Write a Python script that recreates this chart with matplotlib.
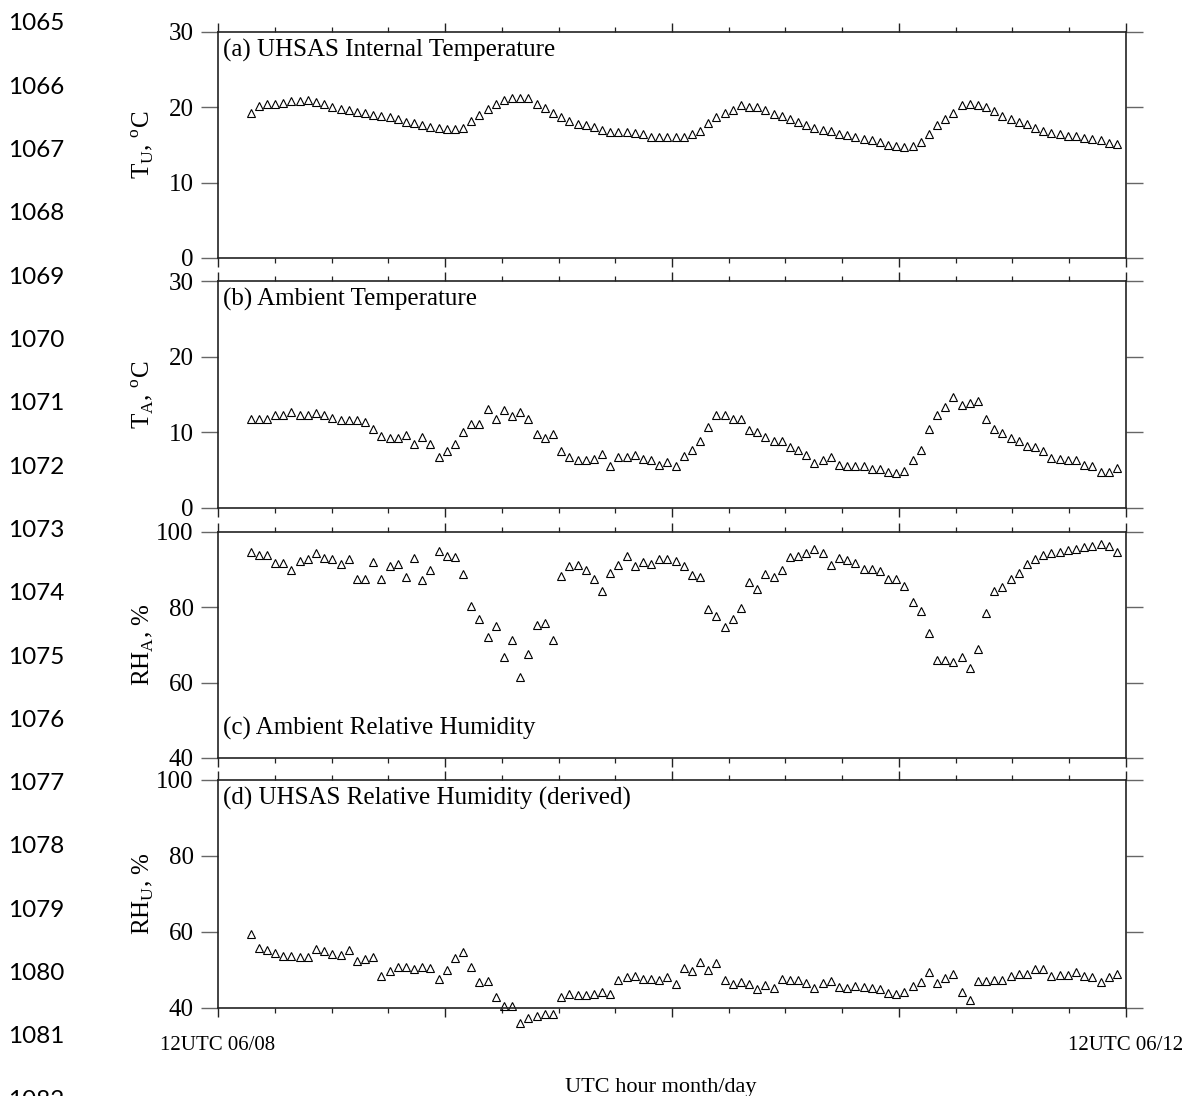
import numpy as np
import matplotlib
matplotlib.use('Agg')
import matplotlib.pyplot as plt
from matplotlib.ticker import FixedLocator, FixedFormatter, MultipleLocator

plt.rcParams['font.family'] = ['Liberation Serif', 'DejaVu Serif']
plt.rcParams['mathtext.fontset'] = 'custom'
plt.rcParams['mathtext.rm'] = 'Liberation Serif'

# sampling: first record 15:27 UTC 06/08, one record every ~52 min (hours since 12UTC 06/08)
t_start = 3.45
t_step = 0.864

# (a) UHSAS internal temperature, degC
temp_uhsas = [19.2, 20.2, 20.4, 20.5, 20.6, 20.8, 20.8, 21.0, 20.7, 20.4,
              20.1, 19.8, 19.6, 19.4, 19.2, 19.0, 18.9, 18.7, 18.4, 18.1,
              17.9, 17.6, 17.4, 17.3, 17.1, 17.1, 17.3, 18.2, 19.0, 19.8,
              20.5, 21.0, 21.2, 21.2, 21.2, 20.5, 19.9, 19.3, 18.7, 18.2,
              17.8, 17.6, 17.4, 17.0, 16.7, 16.7, 16.7, 16.6, 16.5, 16.1,
              16.1, 16.1, 16.1, 16.0, 16.4, 16.8, 17.9, 18.7, 19.3, 19.6,
              20.3, 20.1, 20.0, 19.6, 19.1, 18.8, 18.4, 18.1, 17.7, 17.3,
              17.0, 16.9, 16.5, 16.3, 16.0, 15.8, 15.6, 15.4, 15.0, 14.9,
              14.8, 14.9, 15.4, 16.5, 17.6, 18.4, 19.2, 20.3, 20.5, 20.3,
              20.0, 19.5, 18.9, 18.4, 18.1, 17.8, 17.3, 16.9, 16.6, 16.5,
              16.2, 16.2, 15.9, 15.8, 15.6, 15.2, 15.1]

# (b) ambient temperature, degC
temp_amb = [11.8, 11.8, 11.8, 12.3, 12.3, 12.7, 12.3, 12.3, 12.5, 12.3,
            11.9, 11.6, 11.6, 11.6, 11.3, 10.4, 9.5, 9.2, 9.2, 9.7,
            8.4, 9.4, 8.5, 6.7, 7.5, 8.5, 10.0, 11.1, 11.1, 13.1,
            11.7, 12.9, 12.2, 12.7, 11.7, 9.8, 9.2, 9.8, 7.5, 6.8,
            6.3, 6.3, 6.5, 7.2, 5.6, 6.7, 6.7, 7.0, 6.5, 6.4,
            5.7, 6.1, 5.5, 6.9, 7.6, 8.9, 10.7, 12.3, 12.3, 11.7,
            11.7, 10.3, 10.1, 9.4, 8.9, 8.9, 8.0, 7.6, 7.0, 6.0,
            6.3, 6.8, 5.7, 5.5, 5.5, 5.5, 5.1, 5.1, 4.8, 4.6,
            4.9, 6.3, 7.6, 10.4, 12.3, 13.4, 14.7, 13.6, 13.9, 14.2,
            11.8, 10.5, 9.9, 9.3, 8.9, 8.2, 8.0, 7.5, 6.6, 6.5,
            6.3, 6.3, 5.7, 5.6, 4.8, 4.8, 5.3]

# (c) ambient relative humidity, %
rh_amb = [94.8, 93.9, 93.9, 91.8, 91.8, 90.0, 92.3, 92.7, 94.3, 93.2,
          92.7, 91.6, 92.7, 87.4, 87.6, 92.0, 87.6, 91.1, 91.6, 88.1,
          93.2, 87.2, 90.0, 95.0, 93.7, 93.4, 88.8, 80.3, 77.0, 72.2,
          75.0, 66.9, 71.3, 61.6, 67.5, 75.4, 75.9, 71.2, 88.3, 91.1,
          91.3, 89.9, 87.4, 84.4, 89.2, 91.3, 93.6, 91.1, 92.0, 91.4,
          92.9, 92.7, 92.3, 91.1, 88.6, 88.1, 79.6, 77.7, 74.7, 76.8,
          79.8, 86.7, 84.8, 88.8, 88.1, 89.9, 93.4, 93.7, 94.3, 95.5,
          94.4, 91.3, 93.0, 92.5, 91.8, 90.2, 90.2, 89.7, 87.6, 87.4,
          85.6, 81.4, 79.1, 73.3, 65.9, 65.9, 65.5, 66.9, 63.9, 68.9,
          78.6, 84.4, 85.3, 87.6, 89.0, 91.4, 92.7, 93.9, 94.4, 94.8,
          95.2, 95.5, 95.9, 96.2, 96.7, 96.4, 94.6]

# (d) relative humidity inside the UHSAS (derived), %
rh_uhsas = [59.4, 55.9, 55.2, 54.6, 53.8, 53.8, 53.4, 53.4, 55.5, 55.0,
            54.3, 53.9, 55.3, 52.4, 52.9, 53.4, 48.3, 49.7, 50.8, 50.8,
            50.3, 50.9, 50.4, 47.6, 49.9, 53.2, 54.8, 50.8, 46.9, 47.0,
            43.0, 40.4, 40.5, 36.0, 37.4, 38.0, 38.3, 38.3, 42.9, 43.6,
            43.3, 43.3, 43.6, 44.1, 43.6, 47.4, 48.2, 48.3, 47.6, 47.6,
            47.3, 48.2, 46.4, 50.6, 49.7, 52.2, 49.9, 51.8, 47.4, 46.2,
            46.9, 46.2, 45.0, 46.0, 45.3, 47.6, 47.3, 47.3, 46.6, 45.3,
            46.7, 47.0, 45.5, 45.3, 45.7, 45.5, 45.2, 45.0, 43.9, 43.8,
            44.1, 45.7, 46.9, 49.5, 46.7, 48.0, 49.0, 44.1, 42.2, 47.0,
            47.0, 47.4, 47.4, 48.3, 49.0, 49.0, 50.3, 50.3, 48.3, 48.7,
            48.7, 49.4, 48.3, 48.2, 46.9, 48.2, 49.0]

panel_titles = ['(a) UHSAS Internal Temperature', '(b) Ambient Temperature',
                '(c) Ambient Relative Humidity', '(d) UHSAS Relative Humidity (derived)']
y_labels = [r'T$_\mathrm{U}$, $^\mathrm{o}$C', r'T$_\mathrm{A}$, $^\mathrm{o}$C',
            r'RH$_\mathrm{A}$, %', r'RH$_\mathrm{U}$, %']
y_ranges = [(0, 30), (0, 30), (40, 100), (40, 100)]
y_steps = [10, 10, 20, 20]
x_ticklabels = ['12UTC 06/08', '', '', '', '12UTC 06/12']
line_numbers = list(range(1065, 1083))

series = [temp_uhsas, temp_amb, rh_amb, rh_uhsas]
hours = t_start + t_step * np.arange(len(temp_uhsas))

fig = plt.figure(figsize=(12, 10.96), dpi=100)
W, H = 1200, 1096
left, right = 218, 1126
panel_px = [(32, 258), (281, 508), (532, 758), (780, 1008)]

axes = []
for k, (top, bot) in enumerate(panel_px):
    ax = fig.add_axes([left / W, 1 - bot / H, (right - left) / W, (bot - top) / H])
    # RH_U dips below the 40% floor on 06/09, so let markers spill past the axes
    ax.plot(hours, series[k], linestyle='none', marker='^', markersize=5.2,
            markerfacecolor='none', markeredgecolor='black', markeredgewidth=0.8,
            clip_on=False)
    lo, hi = y_ranges[k]
    ax.set_ylim(lo, hi)
    ax.set_xlim(0, 96)
    ax.set_yticks(np.arange(lo, hi + 1, y_steps[k]))
    ax.tick_params(axis='y', which='both', direction='out', length=12.5, width=1.0,
                   color='#666666', left=True, right=True, labelsize=18, pad=5)
    ax.xaxis.set_major_locator(FixedLocator([0, 24, 48, 72, 96]))
    ax.xaxis.set_minor_locator(MultipleLocator(6))
    ax.tick_params(axis='x', which='major', direction='out', length=6.5, width=1.0,
                   color='#222222', top=True, bottom=True)
    ax.tick_params(axis='x', which='minor', direction='out', length=3.8, width=0.9,
                   color='#222222', top=True, bottom=True)
    if k == 3:
        ax.xaxis.set_major_formatter(FixedFormatter(x_ticklabels))
        ax.tick_params(axis='x', which='major', labelsize=15, pad=14)
        ax.set_xlabel('UTC hour month/day', fontsize=16)
        ax.xaxis.set_label_coords(0.488, -0.305)
    else:
        ax.tick_params(axis='x', labelbottom=False)
    for sp in ax.spines.values():
        sp.set_linewidth(1.2)
        sp.set_color('#222222')
    ax.set_ylabel(y_labels[k], fontsize=18)
    ax.yaxis.set_label_coords(-0.068, 0.5)
    if k == 2:
        ax.text(0.005, 0.13, panel_titles[k], transform=ax.transAxes,
                fontsize=18, ha='left', va='center')
    else:
        ax.text(0.005, 0.918, panel_titles[k], transform=ax.transAxes,
                fontsize=18, ha='left', va='center')
    axes.append(ax)

# manuscript line numbers down the left margin
for i, num in enumerate(line_numbers):
    fig.text(8 / W, 1 - (24 + i * 63.3) / H, str(num), fontsize=17.5,
             family=['Lato', 'DejaVu Sans'], ha='left', va='center')

fig.savefig('out.png', dpi=100)
